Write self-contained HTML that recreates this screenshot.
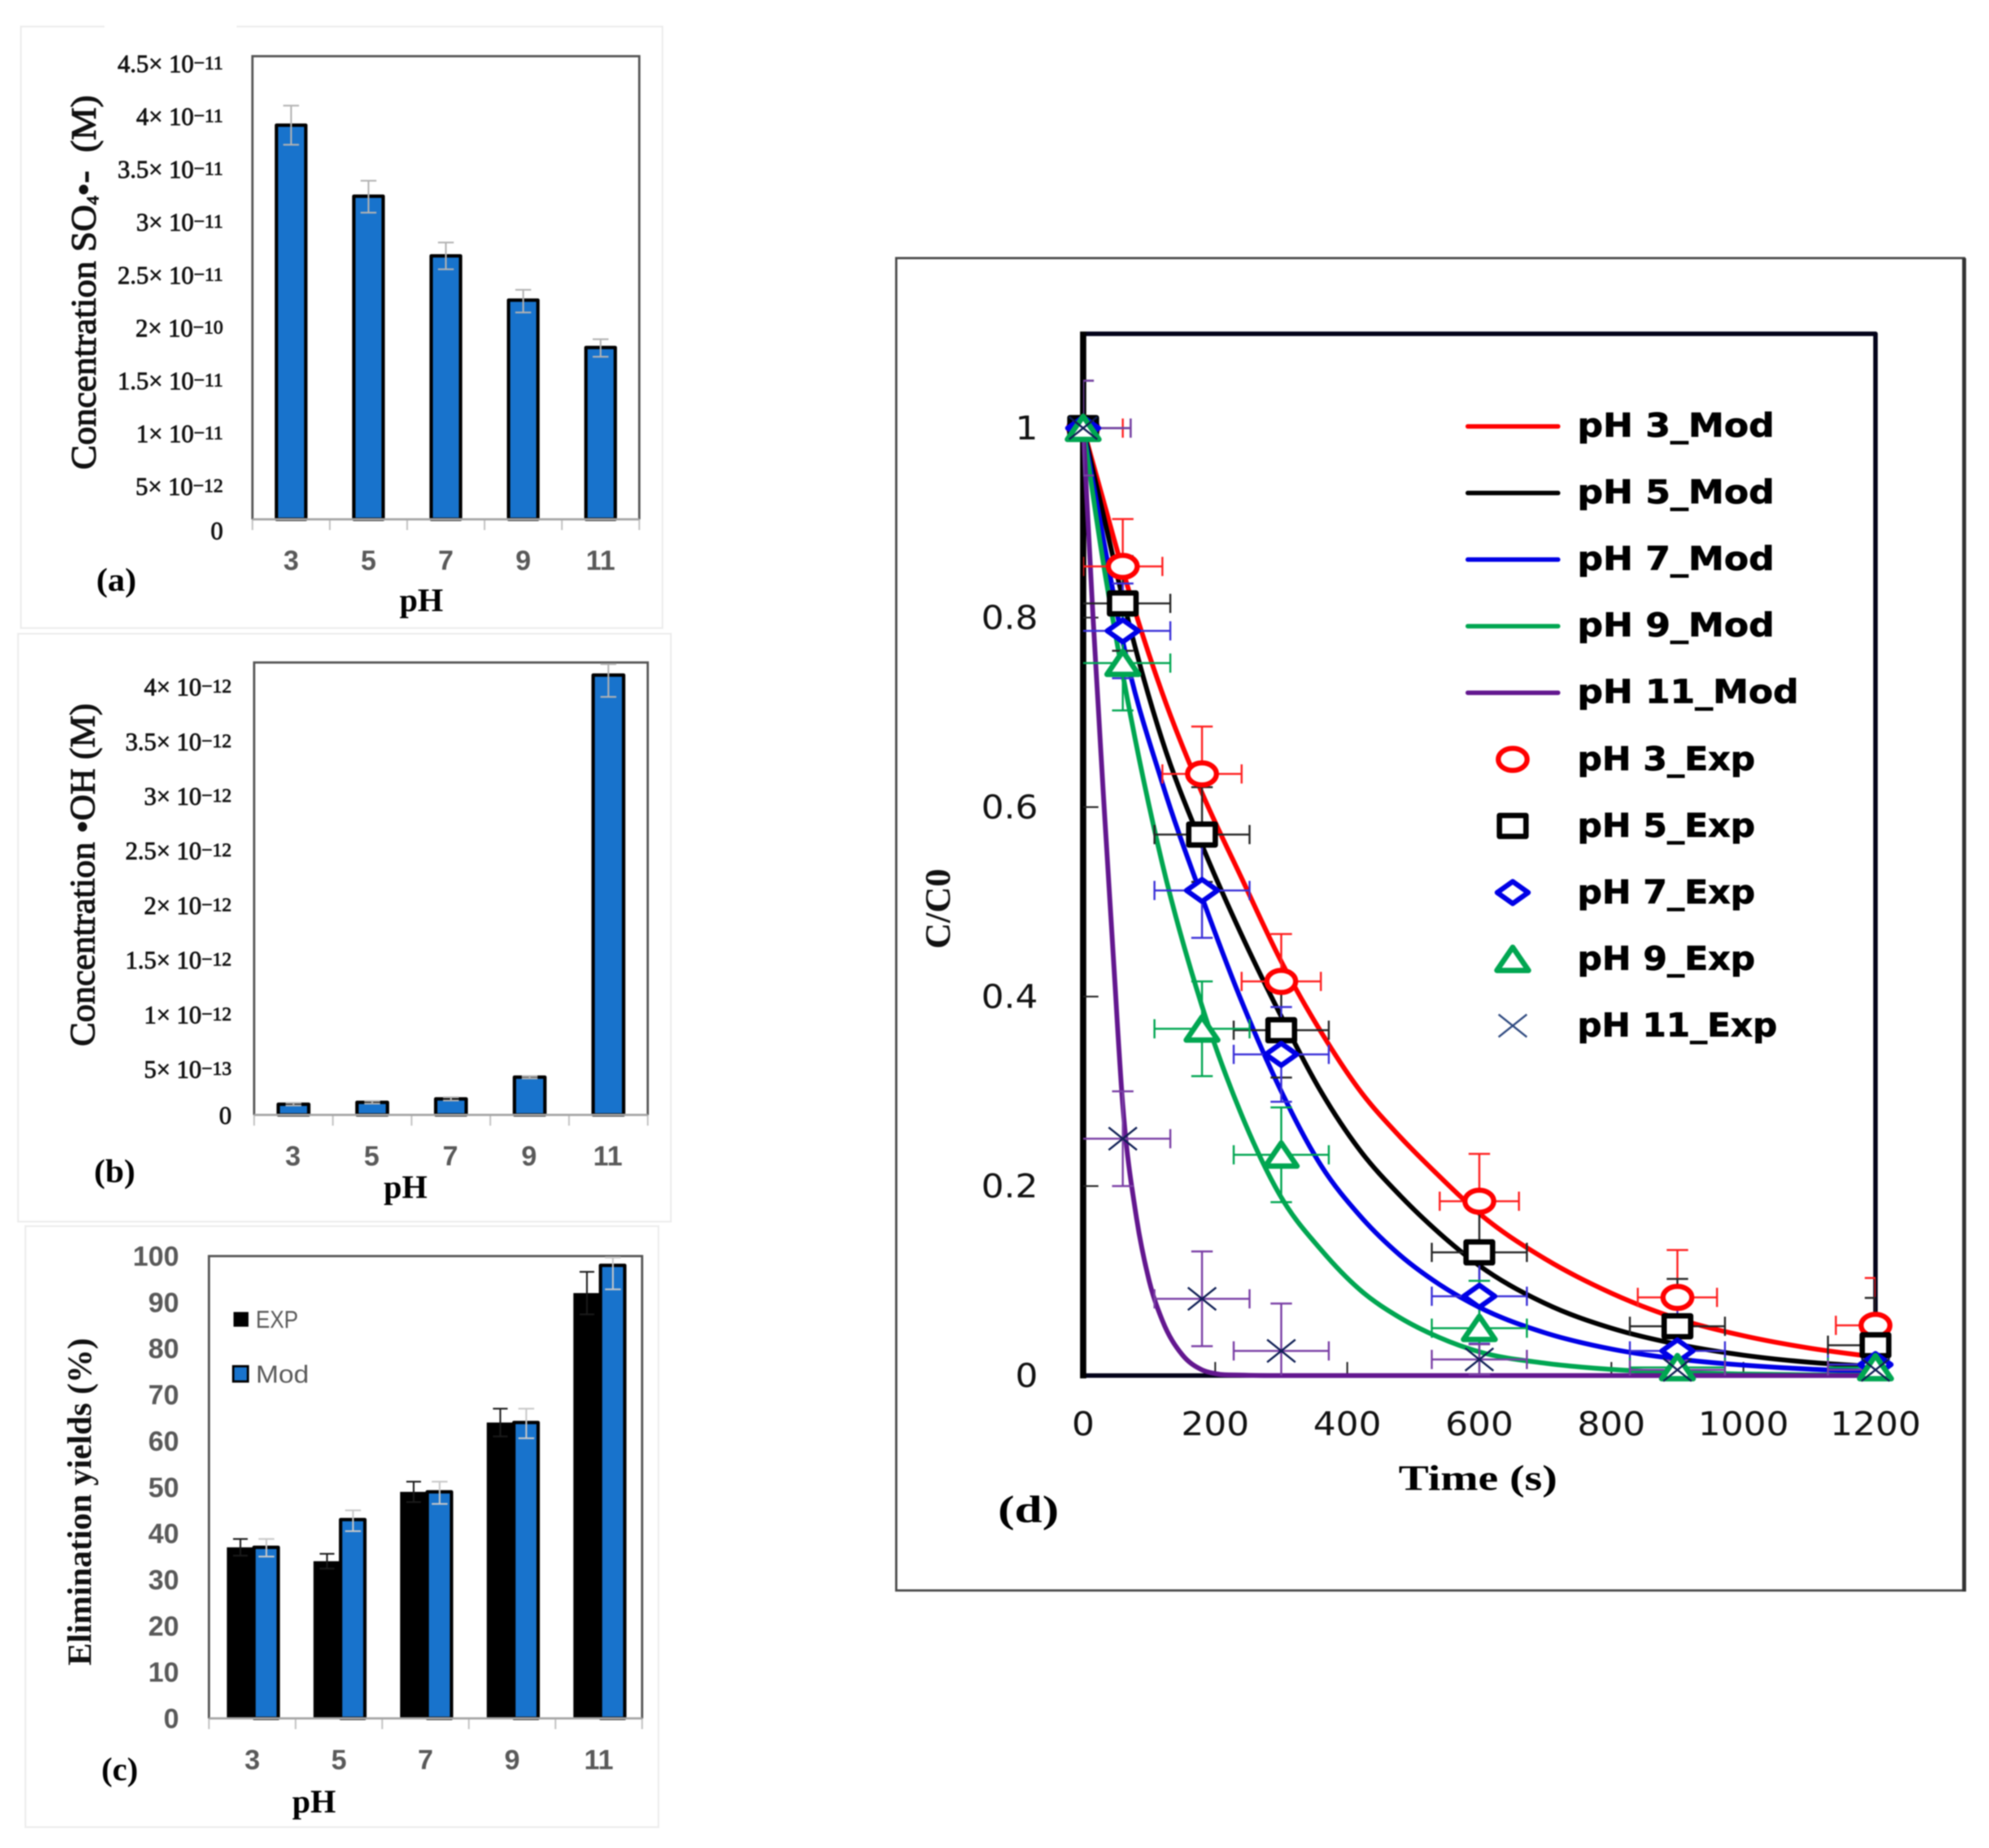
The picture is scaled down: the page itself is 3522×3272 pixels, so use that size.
<!DOCTYPE html>
<html lang="en">
<head>
<meta charset="utf-8">
<title>Radical concentrations and elimination yields versus pH</title>
<style>
html,body{margin:0;padding:0;background:#fff;}
svg{display:block;filter:blur(1.1px);}
.serif{font-family:"Liberation Serif",serif;}
.sans{font-family:"Liberation Sans",sans-serif;}
.dejavu{font-family:"DejaVu Sans",sans-serif;}
</style>
</head>
<body>
<svg id="figure" xmlns="http://www.w3.org/2000/svg" width="3522" height="3272" viewBox="0 0 3522 3272">
  <rect x="0" y="0" width="3522" height="3272" fill="#ffffff"/>
  <defs>
    <clipPath id="plot-d-clip"><rect id="plot-d-clip-rect" x="0" y="0" width="10" height="10"/></clipPath>
  </defs>
  <g id="panel-a">
    <rect x="37" y="47" width="1136" height="1065" fill="none" stroke="#ececec" stroke-width="3"/>
    <rect x="185" y="42" width="234" height="10" fill="#ffffff"/>
  </g>
  <g id="panel-b">
    <rect x="32" y="1122" width="1156" height="1041" fill="none" stroke="#ececec" stroke-width="3"/>
  </g>
  <g id="panel-c">
    <rect x="45" y="2171" width="1121" height="1064" fill="none" stroke="#ececec" stroke-width="3"/>
  </g>
  <g id="panel-d">
    <rect x="1587" y="457" width="1891" height="2359" fill="none" stroke="#4a4a4a" stroke-width="4"/>
    <line x1="3478" y1="457" x2="3478" y2="2818" stroke="#333333" stroke-width="7"/>
  </g>
</svg>
<script>
// ---------- panel (a) data ----------
const phCategories = ['3', '5', '7', '9', '11'];
const so4Values = [3.83, 3.14, 2.56, 2.13, 1.67];
const so4ErrHigh = [4.02, 3.29, 2.69, 2.23, 1.75];
const so4ErrLow = [3.64, 2.98, 2.43, 2.01, 1.58];
const so4TickValues = [0, 0.5, 1, 1.5, 2, 2.5, 3, 3.5, 4, 4.5];
const so4TickMantissas = ['0', '5', '1', '1.5', '2', '2.5', '3', '3.5', '4', '4.5'];
const so4TickExponents = ['', '−12', '−11', '−11', '−10', '−11', '−11', '−11', '−11', '−11'];

// ---------- panel (b) data ----------
const ohValues = [0.100, 0.118, 0.150, 0.354, 4.122];
const ohErrHigh = [0.112, 0.130, 0.165, 0.362, 4.225];
const ohErrLow = [0.088, 0.106, 0.135, 0.342, 3.918];
const ohTickValues = [0, 0.5, 1, 1.5, 2, 2.5, 3, 3.5, 4];
const ohTickMantissas = ['0', '5', '1', '1.5', '2', '2.5', '3', '3.5', '4'];
const ohTickExponents = ['', '−13', '−12', '−12', '−12', '−12', '−12', '−12', '−12'];

// ---------- panel (c) data ----------
const yieldExp = [37, 34, 49, 64, 92];
const yieldMod = [37, 43, 49, 64, 98];
const yieldExpErrHigh = [38.8, 35.6, 51.2, 67, 96.6];
const yieldExpErrLow = [35.2, 32.4, 46.8, 61, 87.4];
const yieldModErrHigh = [38.8, 45, 51.2, 67, 99.7];
const yieldModErrLow = [35, 40.5, 46.4, 60.6, 92.8];
const yieldTicks = [0, 10, 20, 30, 40, 50, 60, 70, 80, 90, 100];

// ---------- panel (d) data ----------
const timeTicks = [0, 200, 400, 600, 800, 1000, 1200];
const ratioTicks = [0, 0.2, 0.4, 0.6, 0.8, 1];
const ratioTickLabels = ['0', '0.2', '0.4', '0.6', '0.8', '1'];
const modTimes = [0, 30, 60, 120, 180, 240, 300, 360, 420, 480, 540, 600, 700, 800, 900, 1000, 1100, 1200];
const ph3Mod = [1, 0.925, 0.85, 0.72, 0.615, 0.525, 0.437, 0.363, 0.3, 0.252, 0.21, 0.171, 0.123, 0.087, 0.06, 0.042, 0.029, 0.0195];
const ph5Mod = [1, 0.91, 0.82, 0.67, 0.56, 0.465, 0.379, 0.3, 0.237, 0.19, 0.15, 0.116, 0.076, 0.05, 0.033, 0.0215, 0.014, 0.0095];
const ph7Mod = [1, 0.885, 0.775, 0.625, 0.505, 0.395, 0.3, 0.222, 0.168, 0.127, 0.096, 0.072, 0.045, 0.028, 0.0175, 0.011, 0.0068, 0.0042];
const ph9Mod = [1, 0.86, 0.74, 0.54, 0.39, 0.275, 0.188, 0.133, 0.09, 0.061, 0.04, 0.025, 0.013, 0.0065, 0.0032, 0.0016, 0.0008, 0.0004];
const ph11ModTimes = [0, 15, 30, 45, 60, 80, 100, 120, 150, 180, 200, 240, 300, 600, 1200];
const ph11Mod = [1, 0.8, 0.62, 0.45, 0.285, 0.17, 0.1, 0.058, 0.022, 0.006, 0.002, 0.0005, 0, 0, 0];
const expTimes = [0, 60, 180, 300, 600, 900, 1200];
const ph3Exp = [1, 0.854, 0.635, 0.416, 0.184, 0.0825, 0.053];
const ph5Exp = [1, 0.815, 0.571, 0.3645, 0.13, 0.052, 0.032];
const ph7Exp = [1, 0.786, 0.512, 0.339, 0.0837, 0.026, 0.0116];
const ph9Exp = [1, 0.752, 0.366, 0.233, 0.05, 0.0086, 0.0086];
const ph11Exp = [1, 0.25, 0.081, 0.026, 0.017, 0.006, 0.006];
const ph3ErrUp = [0.05, 0.05, 0.05, 0.05, 0.05, 0.05, 0.05];
const ph3ErrDown = [0, 0, 0, 0, 0, 0, 0];
const commonErr = [0.05, 0.05, 0.05, 0.05, 0.05, 0.05, 0.05];
const ph11ErrUp = [0.05, 0.05, 0.05, 0.05, 0.016, 0.01, 0.01];
const ph11ErrDown = [0.05, 0.05, 0.05, 0.05, 0.016, 0.01, 0.01];
const timeErrPh3 = 60;
const timeErrOther = 72;

// ---------- helpers ----------
const SVG_NS = 'http://www.w3.org/2000/svg';
function add(parent, tag, attrs, text) {
  const el = document.createElementNS(SVG_NS, tag);
  for (const k in attrs) el.setAttribute(k, attrs[k]);
  if (text !== undefined) el.textContent = text;
  parent.appendChild(el);
  return el;
}

const AXIS_GRAY = '#a6a6a6';
const LABEL_GRAY = '#595959';
const BAR_BLUE = '#1873cc';
const ERR_GRAY = '#b3b3b3';

function drawErrorBar(parent, name, x, yHigh, yLow, capHalf, color, width) {
  const g = add(parent, 'g', { stroke: color, 'stroke-width': width, fill: 'none' });
  
  
  add(g, 'line', { x1: x, x2: x, y1: yHigh, y2: yLow });
  add(g, 'line', { x1: x - capHalf, x2: x + capHalf, y1: yHigh, y2: yHigh });
  add(g, 'line', { x1: x - capHalf, x2: x + capHalf, y1: yLow, y2: yLow });
}

function drawCategoryAxis(parent, id, left, right, top, bottom, labelY, labelShifts) {
  const box = add(parent, 'path', {
    d: 'M' + left + ' ' + bottom + 'V' + top + 'H' + right + 'V' + bottom,
    fill: 'none', stroke: '#555555', 'stroke-width': 4
  });
  
  
  const band = (right - left) / phCategories.length;
  for (let i = 0; i <= phCategories.length; i++) {
    const tick = add(parent, 'line', {
      x1: left + i * band, x2: left + i * band, y1: bottom, y2: bottom + 19,
      stroke: '#c4c4c4', 'stroke-width': 3
    });
    
    
  }
  phCategories.forEach(function (cat, i) {
    const label = add(parent, 'text', {
      x: left + (i + 0.5) * band + labelShifts, y: labelY + 17,
      class: 'sans', 'font-size': 49, 'font-weight': 700, fill: LABEL_GRAY, 'text-anchor': 'middle'
    }, cat);
    
    
  });
}

function drawAxisBottom(parent, id, left, right, bottom) {
  const axis = add(parent, 'line', {
    x1: left, x2: right, y1: bottom, y2: bottom, stroke: AXIS_GRAY, 'stroke-width': 4
  });
  
  
}

function drawSciTick(parent, id, x, y, mantissa, exponent) {
  const t = add(parent, 'text', {
    x: x, y: y + 14, class: 'serif', 'font-size': 44, fill: '#111', stroke: '#111',
    'stroke-width': 1.2, 'text-anchor': 'end'
  });
  
  
  if (exponent === '') {
    t.textContent = mantissa;
    return;
  }
  add(t, 'tspan', {}, mantissa + '× 10');
  add(t, 'tspan', { 'font-size': 34, dy: -5 }, exponent);
}

function drawSimpleText(parent, name, x, y, content, size, bold, len) {
  const attrs = { x: x, y: y, class: 'serif', 'font-size': size, fill: '#000', 'text-anchor': 'middle' };
  if (bold) attrs['font-weight'] = 700;
  if (len) { attrs.textLength = len; attrs.lengthAdjust = 'spacingAndGlyphs'; }
  const t = add(parent, 'text', attrs, content);
  
  
  return t;
}

function drawRotated(parent, name, x, y, size, len, bold) {
  const attrs = {
    x: 0, y: 0, class: 'serif', 'font-size': size, fill: '#111', 'text-anchor': 'middle',
    transform: 'translate(' + x + ' ' + y + ') rotate(-90)',
    textLength: len, lengthAdjust: 'spacingAndGlyphs', stroke: '#111', 'stroke-width': bold ? 0 : 1.6
  };
  if (bold) attrs['font-weight'] = 700;
  const t = add(parent, 'text', attrs);
  
  
  return t;
}

// ---------- panel (a) ----------
(function () {
  const g = document.getElementById('panel-a');
  const left = 447, right = 1132, top = 99.5, bottom = 919.5, domainMax = 4.5;
  const y = function (v) { return bottom - v / domainMax * (bottom - top); };
  const band = (right - left) / phCategories.length;
  const xc = function (i) { return left + (i + 0.5) * band; };
  drawCategoryAxis(g, 'panel-a', left, right, top, bottom, 992, 0);
  so4Values.forEach(function (v, i) {
    const bar = add(g, 'rect', {
      x: xc(i) - 26, y: y(v), width: 52, height: bottom - y(v),
      fill: BAR_BLUE, stroke: '#000', 'stroke-width': 6, 'stroke-linejoin': 'round'
    });
    
    
    drawErrorBar(g, 'so4-error-ph' + phCategories[i], xc(i), y(so4ErrHigh[i]), y(so4ErrLow[i]), 14, ERR_GRAY, 3);
  });
  drawAxisBottom(g, 'panel-a', left, right, bottom);
  so4TickValues.forEach(function (v, i) {
    const labelY = v === 0 ? 940.5 : 955.8 - v * 187.2;
    drawSciTick(g, 'panel-a', 395, labelY, so4TickMantissas[i], so4TickExponents[i]);
  });
  const title = drawRotated(g, 'panel-a-y-axis-title', 169, 500, 62, 663, false);
  add(title, 'tspan', {}, 'Concentration SO');
  add(title, 'tspan', { 'font-size': 30, dy: 5 }, '4');
  add(title, 'tspan', { dy: -5 }, '•-\u00A0\u00A0(M)');
  drawSimpleText(g, 'panel-a-x-axis-title', 746, 1082, 'pH', 58, true);
  drawSimpleText(g, 'panel-a-tag', 206, 1046, '(a)', 58, true, 71);
})();

// ---------- panel (b) ----------
(function () {
  const g = document.getElementById('panel-b');
  const left = 450, right = 1147, top = 1173, bottom = 1974, domainMax = 4.24;
  const y = function (v) { return bottom - v / domainMax * (bottom - top); };
  const band = (right - left) / phCategories.length;
  const xc = function (i) { return left + (i + 0.5) * band; };
  drawCategoryAxis(g, 'panel-b', left, right, top, bottom, 2046.5, -1);
  ohValues.forEach(function (v, i) {
    const bar = add(g, 'rect', {
      x: xc(i) - 27, y: y(v), width: 54, height: bottom - y(v),
      fill: BAR_BLUE, stroke: '#000', 'stroke-width': 6, 'stroke-linejoin': 'round'
    });
    
    
    drawErrorBar(g, 'oh-error-ph' + phCategories[i], xc(i), y(ohErrHigh[i]), y(ohErrLow[i]), 14, ERR_GRAY, 3);
  });
  drawAxisBottom(g, 'panel-b', left, right, bottom);
  ohTickValues.forEach(function (v, i) {
    const labelY = v === 0 ? 1975.5 : 1990.7 - v * 193.4;
    drawSciTick(g, 'panel-b', 410, labelY, ohTickMantissas[i], ohTickExponents[i]);
  });
  const title = drawRotated(g, 'panel-b-y-axis-title', 167, 1549, 62, 607, false);
  title.textContent = 'Concentration •OH (M)';
  drawSimpleText(g, 'panel-b-x-axis-title', 718, 2121, 'pH', 58, true);
  drawSimpleText(g, 'panel-b-tag', 203, 2093, '(b)', 58, true, 73);
})();

// ---------- panel (c) ----------
(function () {
  const g = document.getElementById('panel-c');
  const left = 370, right = 1137, top = 2224, bottom = 3042.5, domainMax = 100;
  const y = function (v) { return bottom - v / domainMax * (bottom - top); };
  const band = (right - left) / phCategories.length;
  const xc = function (i) { return left + (i + 0.5) * band + 2; };
  drawCategoryAxis(g, 'panel-c', left, right, top, bottom, 3115.5, 0);
  phCategories.forEach(function (cat, i) {
    const expBar = add(g, 'rect', {
      x: xc(i) - 47, y: y(yieldExp[i]), width: 47, height: bottom - y(yieldExp[i]), fill: '#000'
    });
    
    
    drawErrorBar(g, 'yield-exp-error-ph' + cat, xc(i) - 23, y(yieldExpErrHigh[i]), y(yieldExpErrLow[i]), 13, '#1a1a1a', 3);
    const modBar = add(g, 'rect', {
      x: xc(i) + 1, y: y(yieldMod[i]), width: 43, height: bottom - y(yieldMod[i]),
      fill: BAR_BLUE, stroke: '#000', 'stroke-width': 6, 'stroke-linejoin': 'round'
    });
    
    
    drawErrorBar(g, 'yield-mod-error-ph' + cat, xc(i) + 23, y(yieldModErrHigh[i]), y(yieldModErrLow[i]), 14, '#c8c8c8', 3);
  });
  drawAxisBottom(g, 'panel-c', left, right, bottom);
  yieldTicks.forEach(function (v) {
    const label = add(g, 'text', {
      x: 317, y: y(v) + 17, class: 'sans', 'font-size': 49, 'font-weight': 700,
      fill: LABEL_GRAY, 'text-anchor': 'end'
    }, String(v));
    
    
  });
  const title = drawRotated(g, 'panel-c-y-axis-title', 161, 2659, 60, 580, true);
  title.textContent = 'Elimination yields (%)';
  drawSimpleText(g, 'panel-c-x-axis-title', 556, 3209, 'pH', 58, true);
  drawSimpleText(g, 'panel-c-tag', 212, 3152, '(c)', 58, true, 65);

  const expSwatch = add(g, 'rect', { x: 413.5, y: 2323, width: 26.5, height: 26, fill: '#000' });
  
  
  const expText = add(g, 'text', {
    x: 453, y: 2351, class: 'sans', 'font-size': 44, fill: LABEL_GRAY,
    textLength: 75, lengthAdjust: 'spacingAndGlyphs'
  }, 'EXP');
  
  
  const modSwatch = add(g, 'rect', {
    x: 413, y: 2419, width: 26, height: 27, fill: BAR_BLUE, stroke: '#000', 'stroke-width': 4
  });
  
  
  const modText = add(g, 'text', {
    x: 453, y: 2448, class: 'sans', 'font-size': 44, fill: LABEL_GRAY,
    textLength: 94, lengthAdjust: 'spacingAndGlyphs'
  }, 'Mod');
  
  
})();

// ---------- panel (d) ----------
function smoothPath(points) {
  const n = points.length;
  const slopes = [];
  for (let i = 0; i < n - 1; i++) {
    slopes.push((points[i + 1][1] - points[i][1]) / (points[i + 1][0] - points[i][0]));
  }
  const tangents = points.map(function (p, i) {
    if (i === 0) return slopes[0];
    if (i === n - 1) return slopes[n - 2];
    if (slopes[i - 1] === 0 || slopes[i] === 0) return 0;
    const h0 = points[i][0] - points[i - 1][0], h1 = points[i + 1][0] - points[i][0];
    return (slopes[i - 1] * h1 + slopes[i] * h0) / (h0 + h1);
  });
  let d = 'M' + points[0][0].toFixed(1) + ' ' + points[0][1].toFixed(1);
  for (let i = 0; i < n - 1; i++) {
    const dx = (points[i + 1][0] - points[i][0]) / 3;
    d += 'C' + (points[i][0] + dx).toFixed(1) + ' ' + (points[i][1] + tangents[i] * dx).toFixed(1) + ' ' +
      (points[i + 1][0] - dx).toFixed(1) + ' ' + (points[i + 1][1] - tangents[i + 1] * dx).toFixed(1) + ' ' +
      points[i + 1][0].toFixed(1) + ' ' + points[i + 1][1].toFixed(1);
  }
  return d;
}

function drawMarker(parent, name, kind, cx, cy, color) {
  const m = add(parent, 'g', { transform: 'translate(' + cx + ' ' + cy + ')' });
  
  
  if (kind === 'circle') {
    add(m, 'ellipse', { rx: 25.5, ry: 19.5, fill: '#fff', stroke: color, 'stroke-width': 9 });
  } else if (kind === 'square') {
    add(m, 'rect', { x: -23.5, y: -18.5, width: 47, height: 37, fill: '#fff', stroke: color, 'stroke-width': 9.5, 'stroke-linejoin': 'round' });
  } else if (kind === 'diamond') {
    add(m, 'path', { d: 'M0 -19.5L27.5 0L0 19.5L-27.5 0Z', fill: '#fff', stroke: color, 'stroke-width': 9, 'stroke-linejoin': 'round' });
  } else if (kind === 'triangle') {
    add(m, 'path', { d: 'M0 -21L28 20L-28 20Z', fill: '#fff', stroke: color, 'stroke-width': 9.5, 'stroke-linejoin': 'round' });
  } else {
    add(m, 'path', { d: 'M-25 -20L25 20M-25 20L25 -20', fill: 'none', stroke: color, 'stroke-width': 3.5 });
  }
}

(function () {
  const g = document.getElementById('panel-d');
  const left = 1918, right = 3321, top = 591, bottom = 2435.5;
  const tMax = 1200, unitY = 1677.5;
  const x = function (t) { return left + t / tMax * (right - left); };
  const y = function (v) { return bottom - v * unitY; };

  const clipRect = document.getElementById('plot-d-clip-rect');
  clipRect.setAttribute('x', left);
  clipRect.setAttribute('y', top);
  clipRect.setAttribute('width', right - left);
  clipRect.setAttribute('height', bottom - top);

  const border = add(g, 'path', {
    d: 'M' + left + ' ' + top + 'H' + right + 'V' + bottom + 'H' + left,
    fill: 'none', stroke: '#03031a', 'stroke-width': 8, 'stroke-linejoin': 'round'
  });
  
  
  const leftAxis = add(g, 'line', {
    x1: left, x2: left, y1: top - 4, y2: bottom + 5, stroke: '#000', 'stroke-width': 11
  });
  
  

  ratioTicks.forEach(function (v, i) {
    if (v > 0) {
      const tick = add(g, 'line', { x1: left, x2: left + 27, y1: y(v), y2: y(v), stroke: '#222', 'stroke-width': 3 });
      
      
    }
    const text = ratioTickLabels[i];
    const len = (text.replace('.', '').length * 0.636 + (text.indexOf('.') >= 0 ? 0.318 : 0)) * 58 * 1.09;
    const label = add(g, 'text', {
      x: 1838, y: y(v) + 20, class: 'dejavu', 'font-size': 58, fill: '#111', 'text-anchor': 'end',
      textLength: len, lengthAdjust: 'spacingAndGlyphs'
    }, text);
    
    
  });
  timeTicks.forEach(function (t) {
    if (t > 0) {
      const tick = add(g, 'line', { x1: x(t), x2: x(t), y1: bottom, y2: bottom - 24, stroke: '#222', 'stroke-width': 3 });
      
      
    }
    const text = String(t);
    const label = add(g, 'text', {
      x: x(t), y: 2541, class: 'dejavu', 'font-size': 58, fill: '#111', 'text-anchor': 'middle',
      textLength: text.length * 0.636 * 58 * 1.09, lengthAdjust: 'spacingAndGlyphs'
    }, text);
    
    
  });

  const modSeries = [
    { label: 'pH 3_Mod', color: '#ff0000', times: modTimes, values: ph3Mod, len: 349 },
    { label: 'pH 5_Mod', color: '#000000', times: modTimes, values: ph5Mod, len: 349 },
    { label: 'pH 7_Mod', color: '#0000e6', times: modTimes, values: ph7Mod, len: 349 },
    { label: 'pH 9_Mod', color: '#00a651', times: modTimes, values: ph9Mod, len: 349 },
    { label: 'pH 11_Mod', color: '#63178f', times: ph11ModTimes, values: ph11Mod, len: 392 }
  ];
  const expSeries = [
    { label: 'pH 3_Exp', color: '#ff0000', errColor: '#ff2020', kind: 'circle', values: ph3Exp, up: ph3ErrUp, down: ph3ErrDown, xErr: timeErrPh3, len: 315 },
    { label: 'pH 5_Exp', color: '#000000', errColor: '#262626', kind: 'square', values: ph5Exp, up: commonErr, down: commonErr, xErr: timeErrOther, len: 315 },
    { label: 'pH 7_Exp', color: '#0000e6', errColor: '#3a30d8', kind: 'diamond', values: ph7Exp, up: commonErr, down: commonErr, xErr: timeErrOther, len: 315 },
    { label: 'pH 9_Exp', color: '#00a651', errColor: '#00a651', kind: 'triangle', values: ph9Exp, up: commonErr, down: commonErr, xErr: timeErrOther, len: 315 },
    { label: 'pH 11_Exp', color: '#0f1f55', errColor: '#7a3fa5', kind: 'cross', values: ph11Exp, up: ph11ErrUp, down: ph11ErrDown, xErr: timeErrOther, len: 354 }
  ];

  modSeries.forEach(function (s) {
    const pts = s.times.map(function (t, i) { return [x(t), y(s.values[i])]; });
    const path = add(g, 'path', {
      d: smoothPath(pts), fill: 'none', stroke: s.color, 'stroke-width': 8.5, 'stroke-linejoin': 'round'
    });
    
    
  });

  const errGroup = add(g, 'g', { 'clip-path': 'url(#plot-d-clip)', fill: 'none' });
  
  
  expSeries.forEach(function (s) {
    expTimes.forEach(function (t, i) {
      const v = s.values[i];
      const e = add(errGroup, 'g', { stroke: s.errColor, 'stroke-width': 3.5 });
      
      
      const yHi = y(v + s.up[i]), yLo = y(v - s.down[i]);
      add(e, 'line', { x1: x(t), x2: x(t), y1: yHi, y2: yLo });
      add(e, 'line', { x1: x(t) - 19, x2: x(t) + 19, y1: yHi, y2: yHi });
      if (s.down[i] > 0) {
        add(e, 'line', { x1: x(t) - 19, x2: x(t) + 19, y1: yLo, y2: yLo });
      }
      const xL = x(t - s.xErr), xR = x(t + s.xErr);
      add(e, 'line', { x1: xL, x2: xR, y1: y(v), y2: y(v) });
      add(e, 'line', { x1: xL, x2: xL, y1: y(v) - 17, y2: y(v) + 17 });
      add(e, 'line', { x1: xR, x2: xR, y1: y(v) - 17, y2: y(v) + 17 });
    });
  });

  expSeries.forEach(function (s) {
    expTimes.forEach(function (t, i) {
      drawMarker(g, 'marker-' + s.kind + '-t' + t, s.kind, x(t), y(s.values[i]), s.color);
    });
  });

  // legend
  const legendTop = 755, legendStep = 117.9;
  const legend = add(g, 'g', {});
  
  
  modSeries.forEach(function (s, i) {
    const ly = legendTop + i * legendStep;
    const line = add(legend, 'line', {
      x1: 2599, x2: 2759, y1: ly, y2: ly, stroke: s.color, 'stroke-width': 8, 'stroke-linecap': 'round'
    });
    
    
    const label = add(legend, 'text', {
      x: 2793, y: ly + 18, class: 'dejavu', 'font-size': 58, 'font-weight': 700, fill: '#000',
      stroke: '#000', 'stroke-width': 1, textLength: s.len, lengthAdjust: 'spacingAndGlyphs'
    }, s.label);
    
    
  });
  expSeries.forEach(function (s, i) {
    const ly = legendTop + (i + 5) * legendStep;
    drawMarker(legend, 'legend-marker-' + s.kind, s.kind, 2678.6, ly, s.kind === 'cross' ? '#2f4a80' : s.color);
    const label = add(legend, 'text', {
      x: 2793, y: ly + 19, class: 'dejavu', 'font-size': 58, 'font-weight': 700, fill: '#000',
      stroke: '#000', 'stroke-width': 1, textLength: s.len, lengthAdjust: 'spacingAndGlyphs'
    }, s.label);
    
    
  });

  drawSimpleText(g, 'panel-d-x-axis-title', 2617, 2638, 'Time (s)', 64, true, 281);
  const yTitle = drawRotated(g, 'panel-d-y-axis-title', 1682, 1609, 64, 142, true);
  yTitle.textContent = 'C/C0';
  drawSimpleText(g, 'panel-d-tag', 1821, 2695, '(d)', 68, true, 108);
})();
</script>
</body>
</html>
